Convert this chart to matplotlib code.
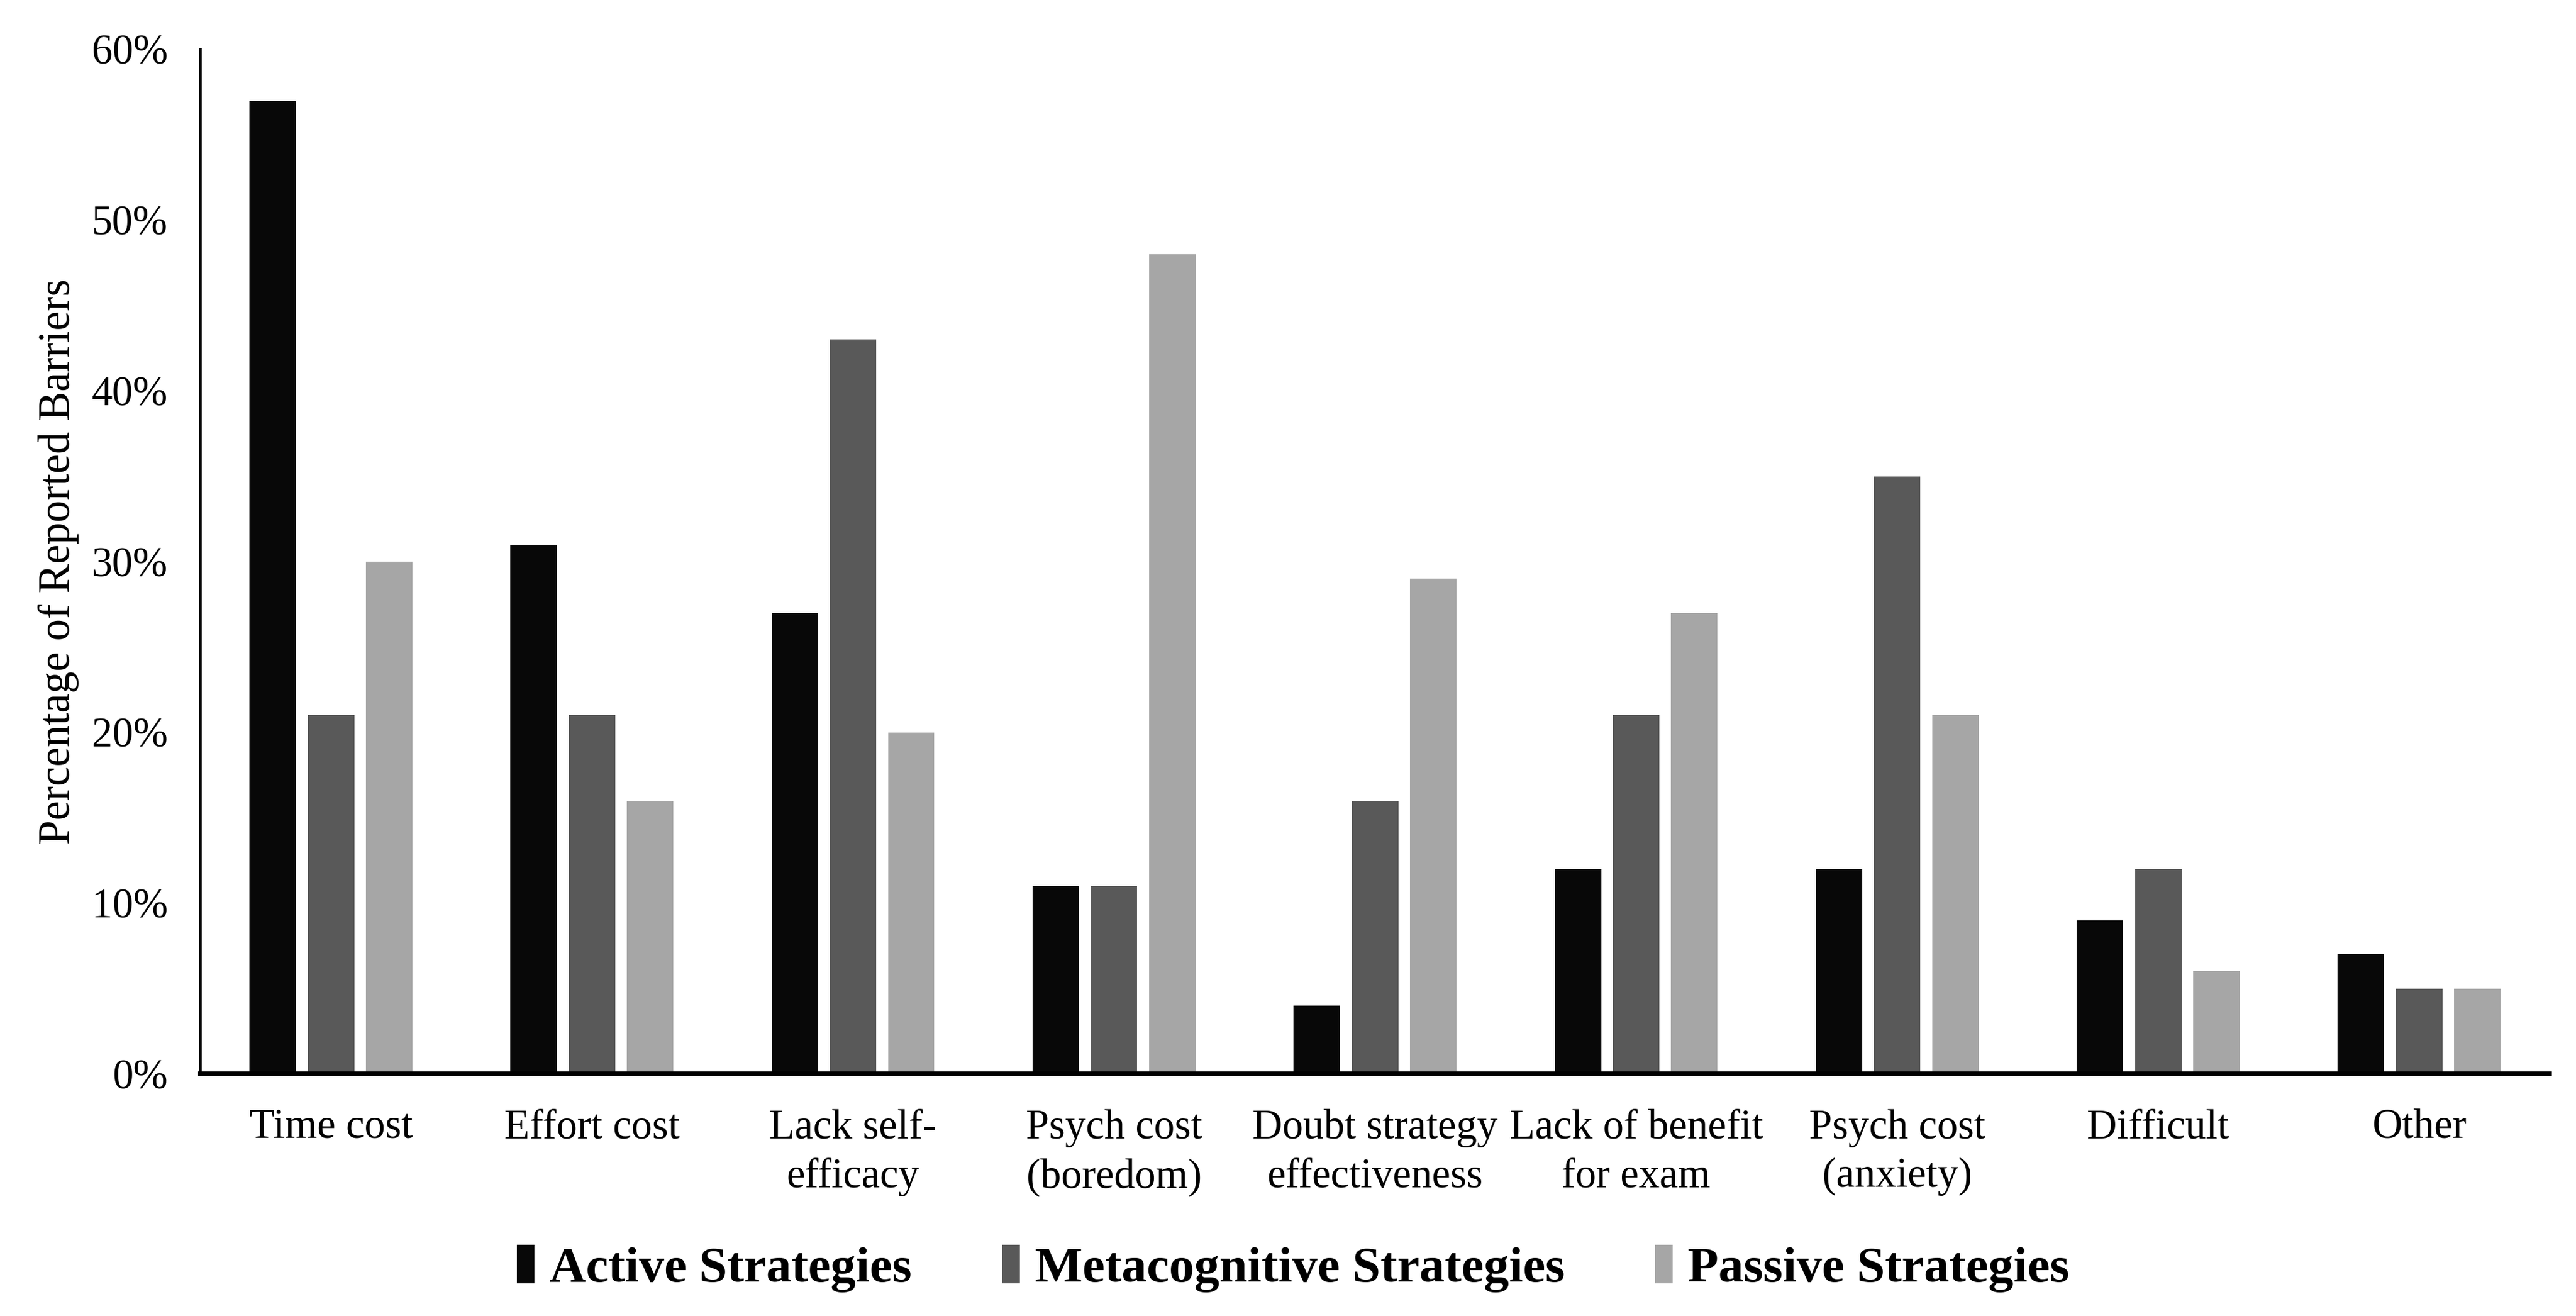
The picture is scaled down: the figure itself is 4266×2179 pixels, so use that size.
import matplotlib.pyplot as plt
import numpy as np
from matplotlib.ticker import FuncFormatter

categories = ["Time cost", "Effort cost", "Lack self-\nefficacy", "Psych cost\n(boredom)",
              "Doubt strategy\neffectiveness", "Lack of benefit\nfor exam", "Psych cost\n(anxiety)",
              "Difficult", "Other"]
active = [57, 31, 27, 11, 4, 12, 12, 9, 7]
metacognitive = [21, 21, 43, 11, 16, 21, 35, 12, 5]
passive = [30, 16, 20, 48, 29, 27, 21, 6, 5]
series_names = ["Active Strategies", "Metacognitive Strategies", "Passive Strategies"]
colors = ["#080808", "#595959", "#a6a6a6"]

plt.rcParams["font.family"] = ["Liberation Serif", "DejaVu Serif"]

fig = plt.figure(figsize=(4266 / 300, 2179 / 300), dpi=300)
ax = fig.add_axes([0.0778, 0.184, 0.912, 0.7785])

x = np.arange(len(categories))
width = 0.178
pitch = 0.223
for k, (vals, name, col) in enumerate(zip([active, metacognitive, passive], series_names, colors)):
    ax.bar(x + (k - 1) * pitch, np.array(vals) / 100, width, color=col, label=name, zorder=2)

ax.set_xlim(-0.5, len(categories) - 0.5)
ax.set_ylim(0, 0.6)
ax.set_yticks(np.arange(0, 0.61, 0.1))
ax.yaxis.set_major_formatter(FuncFormatter(lambda v, p: f"{v * 100:.0f}%"))
ax.set_xticks(x)
ax.set_xticklabels(categories, linespacing=1.35)
ax.tick_params(axis="y", length=0, pad=13, labelsize=16.5)
ax.tick_params(axis="x", length=0, pad=14, labelsize=16.5)
ax.set_ylabel("Percentage of Reported Barriers", fontsize=17.5, labelpad=5)

for s in ["top", "right"]:
    ax.spines[s].set_visible(False)
ax.spines["left"].set_linewidth(1.0)
ax.spines["bottom"].set_linewidth(1.9)
ax.spines["bottom"].set_zorder(3)

fig.legend(loc="center", bbox_to_anchor=(0.502, 0.036), ncol=3, frameon=False,
           prop={"weight": "bold", "size": 20}, handlelength=0.35, handleheight=0.8,
           handletextpad=0.3, columnspacing=1.8)

fig.savefig("out.png", dpi=300)
